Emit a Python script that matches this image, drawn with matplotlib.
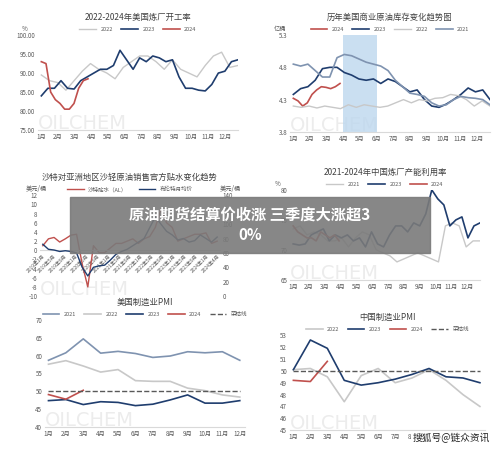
import matplotlib.pyplot as plt
import matplotlib.patches as mpatches
import numpy as np

plt.rcParams['font.family'] = ['Noto Sans CJK SC', 'DejaVu Sans']

NAVY = '#1f3d6e'
RED = '#c0504d'
LGRAY = '#c8c8c8'
BGRAY = '#7f93b0'

months = [f"{i}月" for i in range(1, 13)]

# panel 1: US refinery utilization (%)
p1_2022 = [89.5, 88, 87.5, 85.5, 88, 90.5, 92.5, 91, 90, 88.5, 91.5, 93, 94.5, 94.5, 93, 91,
           93.5, 91, 90, 89, 92, 94.5, 95.5, 91.5, 92]
p1_2023 = [84, 86, 86, 88, 86, 85.8, 88, 89, 90, 91, 91, 92, 96, 93.5, 91, 94, 93, 94.5, 94,
           93, 93.5, 89, 86, 86, 85.5, 85.3, 87, 90, 90.5, 93, 93.5]
p1_2024 = [93, 92.5, 85, 83, 82, 80.5, 80.5, 82, 86, 88, 88.5]

# panel 2: US commercial crude inventory (亿桶)
p2_2024 = [4.32, 4.28, 4.2, 4.25, 4.38, 4.45, 4.5, 4.49, 4.47, 4.5, 4.55]
p2_2023 = [4.38, 4.47, 4.5, 4.6, 4.78, 4.8, 4.8, 4.72, 4.68, 4.62, 4.6, 4.62, 4.55, 4.62, 4.58,
           4.5, 4.42, 4.45, 4.3, 4.2, 4.18, 4.23, 4.3, 4.38, 4.48, 4.42, 4.45, 4.3]
p2_2022 = [4.2, 4.18, 4.2, 4.17, 4.2, 4.18, 4.16, 4.22, 4.18, 4.22, 4.2, 4.18, 4.2, 4.25, 4.3,
           4.25, 4.3, 4.28, 4.32, 4.33, 4.38, 4.36, 4.3, 4.2, 4.28, 4.2]
p2_2021 = [4.85, 4.82, 4.85, 4.75, 4.65, 4.65, 4.95, 5.0, 4.98, 4.93, 4.88, 4.85, 4.82, 4.75,
           4.6, 4.5, 4.4, 4.38, 4.35, 4.25, 4.2, 4.22, 4.3, 4.35, 4.33, 4.32, 4.3, 4.22]

# panel 3: Saudi OSP to Asia vs Brent (bimonthly)
p3_labels = ['2019年1月', '2019年5月', '2019年9月', '2020年1月', '2020年5月', '2020年9月',
             '2021年1月', '2021年5月', '2021年9月', '2022年1月', '2022年5月', '2022年9月',
             '2023年1月', '2023年5月', '2023年9月', '2024年1月', '2024年4月']
p3_osp = [1, 2.5, 2.8, 1.8, 2.5, 3.3, 3.5, -3, -8, 1, -0.5, -0.5, 0.5, 1.5, 1.5, 2, 2.5, 1.5,
          2.5, 3, 5, 9, 6, 5, 2, 2.5, 3, 3.5, 3.5, 3.8, 1.5, 2]
p3_brent = [72, 65, 64, 62, 63, 62, 60, 40, 28, 40, 42, 43, 50, 58, 62, 65, 70, 75, 80, 95, 110,
            100, 90, 85, 78, 80, 75, 77, 85, 80, 75, 82]

# panel 4: China refinery utilization (%)
p4_2021 = [73.5, 74, 72.5, 73, 72.5, 71.5, 71.5, 72, 70.5, 72, 73, 72.5, 70, 69.5, 69, 68, 68.5,
           69, 69.5, 69, 68.5, 68, 74, 74.5, 74, 70.5, 71.5, 71.5]
p4_2023 = [71, 70.8, 71, 72.5, 73, 73.5, 71.5, 72.5, 72, 72.5, 71.5, 72, 70.5, 73, 71, 70.5, 72.5,
           74, 74, 73, 74.5, 74, 76, 80, 78.5, 77.5, 74, 75, 75.5, 72, 74, 74.5]
p4_2024 = [74, 73, 72.5, 72, 72, 71.5, 73, 72.5, 72, 72.5, 71.5]

# panel 5: US manufacturing PMI
p5_2021 = [58.7, 60.8, 64.7, 60.7, 61.2, 60.6, 59.5, 59.9, 61.1, 60.8, 61.1, 58.7]
p5_2022 = [57.6, 58.6, 57.1, 55.4, 56.1, 53, 52.8, 52.8, 50.9, 50.2, 49, 48.4]
p5_2023 = [47.4, 47.7, 46.3, 47.1, 46.9, 46, 46.4, 47.6, 49, 46.7, 46.7, 47.4]
p5_2024 = [49.1, 47.8, 50.3]

# panel 6: China manufacturing PMI
p6_2022 = [50.1, 50.2, 49.5, 47.4, 49.6, 50.2, 49, 49.4, 50.1, 49.2, 48, 47]
p6_2023 = [50.1, 52.6, 51.9, 49.2, 48.8, 49, 49.3, 49.7, 50.2, 49.5, 49.4, 49]
p6_2024 = [49.2, 49.1, 50.8]


def xs(vals, start, end):
    return np.linspace(start, end, len(vals))


def style(ax, title, ylim, yticks, fmt="{:g}", unit=None):
    ax.set_title(title, fontsize=6, color='#404040', pad=11)
    ax.set_ylim(*ylim)
    ax.set_yticks(yticks)
    ax.set_yticklabels([fmt.format(v) for v in yticks], fontsize=4.5, color='#595959')
    for s in ['top', 'right', 'left']:
        ax.spines[s].set_visible(False)
    ax.spines['bottom'].set_color('#d9d9d9')
    ax.tick_params(length=0, pad=2)
    if unit:
        ax.text(-0.08, 1.04, unit, transform=ax.transAxes, fontsize=4.5, color='#595959')
    ax.text(0.0, 0.01, 'OILCHEM', transform=ax.transAxes, fontsize=14, color='#ececec',
            zorder=0, family='DejaVu Sans')


def month_axis(ax, xmax=12.8):
    ax.set_xlim(0.8, xmax)
    ax.set_xticks(range(1, 13))
    ax.set_xticklabels(months, fontsize=4.5, color='#595959')


def leg(ax, n):
    ax.legend(loc='lower center', bbox_to_anchor=(0.5, 0.98), ncol=n, frameon=False,
              fontsize=4, handlelength=3, columnspacing=1.5, labelcolor='#595959')


fig = plt.figure(figsize=(5, 4.5), dpi=100)

# panel 1
ax = fig.add_axes([0.076, 0.711, 0.4, 0.211])
ax.plot(xs(p1_2022, 1, 12.8), p1_2022, color=LGRAY, lw=1, label='2022')
ax.plot(xs(p1_2023, 1, 12.8), p1_2023, color=NAVY, lw=1.2, label='2023')
ax.plot(xs(p1_2024, 1, 3.8), p1_2024, color=RED, lw=1.2, label='2024')
style(ax, '2022-2024年美国炼厂开工率', (75, 100), [75, 80, 85, 90, 95, 100], "{:.2f}", '%')
month_axis(ax)
leg(ax, 3)

# panel 2
ax = fig.add_axes([0.58, 0.707, 0.4, 0.215])
ax.axvspan(4, 6, color='#bdd7ee', alpha=0.8, lw=0)
ax.plot(xs(p2_2024, 1, 3.8), p2_2024, color=RED, lw=1.2, label='2024')
ax.plot(xs(p2_2023, 1, 12.8), p2_2023, color=NAVY, lw=1.2, label='2023')
ax.plot(xs(p2_2022, 1, 12.8), p2_2022, color=LGRAY, lw=1, label='2022')
ax.plot(xs(p2_2021, 1, 12.8), p2_2021, color=BGRAY, lw=1.2, label='2021')
style(ax, '历年美国商业原油库存变化趋势图', (3.8, 5.3), [3.8, 4.3, 4.8, 5.3], "{:.1f}", '亿桶')
month_axis(ax)
leg(ax, 4)

# panel 3
ax = fig.add_axes([0.08, 0.342, 0.36, 0.224])
n3 = len(p3_osp)
ax.plot(range(n3), p3_osp, color=RED, lw=1, label='沙特贴水（AL）')
style(ax, '沙特对亚洲地区沙轻原油销售官方贴水变化趋势', (-10, 12), list(range(-10, 13, 2)), "{:g}", '美元/桶')
ax.spines['bottom'].set_position(('data', 0))
ax.set_xlim(-0.5, n3 - 0.5)
ax.set_xticks(np.linspace(0, n3 - 1, len(p3_labels)))
ax.set_xticklabels(p3_labels, fontsize=3.5, rotation=45, ha='right', color='#595959',
                   rotation_mode='anchor')
ax2 = ax.twinx()
ax2.plot(range(n3), p3_brent, color=NAVY, lw=1, label='布伦特月均价')
ax2.set_ylim(0, 140)
ax2.set_yticks(range(0, 141, 20))
ax2.set_yticklabels([str(v) for v in range(0, 141, 20)], fontsize=4.5, color='#595959')
for s in ax2.spines.values():
    s.set_visible(False)
ax2.tick_params(length=0, pad=2)
ax2.text(1.0, 1.04, '美元/桶', transform=ax2.transAxes, fontsize=4.5, color='#595959')
h1, l1 = ax.get_legend_handles_labels()
h2, l2 = ax2.get_legend_handles_labels()
ax.legend(h1 + h2, l1 + l2, loc='lower center', bbox_to_anchor=(0.5, 0.98), ncol=2,
          frameon=False, fontsize=4, handlelength=3, labelcolor='#595959')

# panel 4
ax = fig.add_axes([0.58, 0.378, 0.38, 0.2])
ax.plot(xs(p4_2021, 1, 12.8), p4_2021, color=LGRAY, lw=1, label='2021')
ax.plot(xs(p4_2023, 1, 12.8), p4_2023, color=NAVY, lw=1.2, label='2023')
ax.plot(xs(p4_2024, 1, 3.9), p4_2024, color=RED, lw=1.2, label='2024')
style(ax, '2021-2024年中国炼厂产能利用率', (65, 80), [65, 70, 75, 80], "{:g}", '%')
month_axis(ax)
leg(ax, 3)

# panel 5
ax = fig.add_axes([0.09, 0.051, 0.4, 0.238])
x12 = range(1, 13)
ax.plot(x12, p5_2021, color=BGRAY, lw=1.2, label='2021')
ax.plot(x12, p5_2022, color=LGRAY, lw=1.2, label='2022')
ax.plot(x12, p5_2023, color=NAVY, lw=1.2, label='2023')
ax.plot(range(1, 4), p5_2024, color=RED, lw=1.2, label='2024')
ax.plot(x12, [50] * 12, color='#595959', lw=1, ls='--', label='荣枯线')
style(ax, '美国制造业PMI', (40, 70), list(range(40, 71, 5)))
month_axis(ax, 12.3)
leg(ax, 5)

# panel 6
ax = fig.add_axes([0.58, 0.044, 0.39, 0.211])
ax.plot(x12, p6_2022, color=LGRAY, lw=1.2, label='2022')
ax.plot(x12, p6_2023, color=NAVY, lw=1.2, label='2023')
ax.plot(range(1, 4), p6_2024, color=RED, lw=1.2, label='2024')
ax.plot(x12, [50] * 12, color='#595959', lw=1, ls='--', label='荣枯线')
style(ax, '中国制造业PMI', (45, 53), list(range(45, 54)))
month_axis(ax, 12.3)
leg(ax, 4)

# overlay banner
fig.patches.append(mpatches.Rectangle((0.14, 0.438), 0.72, 0.124, transform=fig.transFigure,
                                      color='#7a7a7a', alpha=0.9, zorder=10))
fig.text(0.5, 0.5, '原油期货结算价收涨 三季度大涨超3\n0%', ha='center', va='center',
         fontsize=11, fontweight='bold', color='white', zorder=11, linespacing=1.3)
fig.text(0.98, 0.015, '搜狐号@链众资讯', ha='right', va='bottom', fontsize=7, color='#222222',
         zorder=11, bbox=dict(facecolor='white', edgecolor='none', pad=1))

fig.savefig('out.png', dpi=100, facecolor='white')
